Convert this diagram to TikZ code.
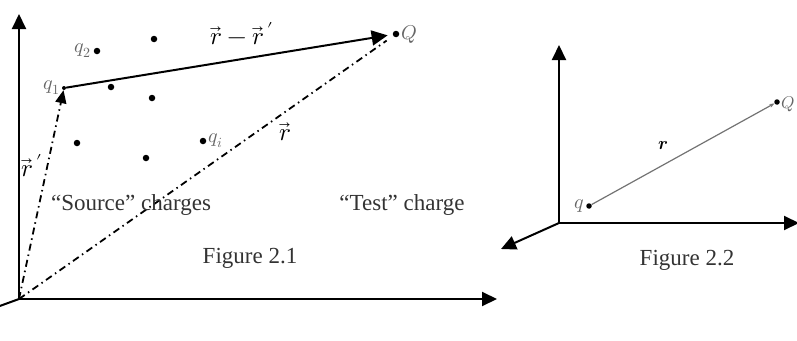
\documentclass[tikz,border=0pt]{standalone}
\usepackage{fontspec}
\usepackage{unicode-math}
\setmainfont{Liberation Serif}
\usetikzlibrary{arrows.meta,positioning}
\tikzset{
  axis/.style={line width=2pt, -{Triangle[length=15pt,width=14pt]}},
  dot/.style={circle, fill=black, inner sep=0pt, minimum size=6.5pt},
  dashdot/.style={line width=1.8pt, dash pattern=on 7pt off 4pt on 1.5pt off 4pt},
  lbl/.style={font=\fontsize{23}{27}\selectfont, text=black!80},
  vlbl/.style={font=\fontsize{25}{29}\selectfont},
  qlbl/.style={font=\fontsize{20}{24}\selectfont, text=black!60, inner sep=1pt}
}
\begin{document}
\begin{tikzpicture}[x=1pt,y=-1pt]
  \useasboundingbox (0,0) rectangle (797,340);

  % Figure 2.1
  \coordinate (O1) at (19,299);
  \draw[axis] (O1) -- (19,14);
  \draw[axis] (O1) -- (497,299);
  \draw[line width=2pt] (O1) -- (-3,307);

  \foreach \p in {(154,39),(111,87),(152,98),(77,143),(146,158)}
    \node[dot] at \p {};
  \node[dot] (q2) at (97,51) {};
  \node[dot] (qi) at (203,141) {};
  \node[dot, minimum size=4pt] (q1) at (64,88) {};
  \node[dot] (Q) at (396,34) {};

  \node[qlbl, left=1pt of q2] {$q_2$};
  \node[qlbl, left=1pt of q1] {$q_1$};
  \node[qlbl, right=1pt of qi] {$q_i$};
  \node[qlbl, right=1pt of Q] {$Q$};

  \draw[line width=2pt, -{Triangle[length=16pt,width=15pt]}, shorten >=5pt] (q1) -- (Q);
  \draw[dashdot, -{Triangle[length=13pt,width=11pt]}] (O1) -- (q1);
  \draw[dashdot, shorten >=8pt] (O1) -- (Q);

  \node[vlbl] (rdiff) at (242,34) {$\vec{r}-\vec{r}\,'$};
  \node[vlbl] (rp) at (32,166) {$\vec{r}\,'$};
  \node[vlbl] (r) at (285,132) {$\vec{r}$};

  \node[lbl] (src) at (131,205) {“Source” charges};
  \node[lbl] (test) at (402,205) {“Test” charge};
  \node[lbl] (fig1) at (250,258) {Figure 2.1};

  % Figure 2.2
  \coordinate (O2) at (559,223);
  \draw[axis] (O2) -- (559,45);
  \draw[axis] (O2) -- (799,223);
  \draw[axis] (O2) -- (501,249);

  \node[dot, minimum size=5.5pt] (q) at (589,206) {};
  \node[dot, minimum size=5.5pt] (Qb) at (777,102) {};
  \node[qlbl, left=1pt of q] {$q$};
  \node[qlbl, font=\fontsize{17}{20}\selectfont, inner sep=0.5pt, right=0.5pt of Qb, yshift=-2pt] {$Q$};
  \draw[black!55, line width=1.2pt, -{Stealth[length=5pt]}] (q) -- (Qb);
  \node[font=\fontsize{18}{20}\selectfont] (scr) at (663,146) {$\symbfit{r}$};

  \node[lbl] (fig2) at (687,260) {Figure 2.2};
\end{tikzpicture}
\end{document}
